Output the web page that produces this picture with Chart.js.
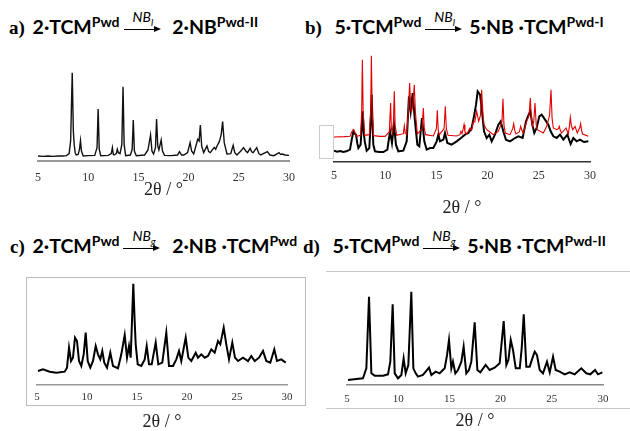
<!DOCTYPE html>
<html><head><meta charset="utf-8">
<script src="https://cdn.jsdelivr.net/npm/chart.js@4.4.1/dist/chart.umd.min.js"></script>
<style>
html,body{margin:0;padding:0;background:#fff;}
body{width:630px;height:431px;position:relative;overflow:hidden;}
canvas{position:absolute;}
.ttl{position:absolute;white-space:nowrap;font-family:Lato,"Open Sans",sans-serif;font-weight:bold;font-size:19.5px;line-height:22px;color:#000;}
.lab{font-family:"Liberation Serif",serif;font-weight:bold;font-size:19px;margin-right:3px;}
.sup{font-size:14px;position:relative;top:-7px;}
.arr{display:inline-block;position:relative;width:37px;height:22px;vertical-align:top;margin:0 7px 0 4px;}
.arr .ln{position:absolute;left:0;right:3px;top:13px;height:1px;background:#000;}
.arr .hd{position:absolute;right:0;top:10px;width:0;height:0;border-top:3.5px solid transparent;border-bottom:3.5px solid transparent;border-left:7px solid #000;}
.arr .nb{position:absolute;left:9px;top:-7px;font-weight:normal;font-style:italic;font-size:14px;line-height:15px;}
.arr .nb sub{font-size:10px;}
.deco{position:absolute;box-sizing:border-box;}
</style></head><body>

<div class="ttl" style="left:9px;top:16px;"><span class="lab">a)</span> 2·TCM<span class="sup">Pwd</span><span class="arr"><span class="nb">NB<sub>l</sub></span><span class="ln"></span><span class="hd"></span></span> 2·NB<span class="sup">Pwd-II</span></div>
<div class="ttl" style="left:305px;top:16px;"><span class="lab">b)</span>&nbsp; 5·TCM<span class="sup">Pwd</span><span class="arr"><span class="nb">NB<sub>l</sub></span><span class="ln"></span><span class="hd"></span></span>5·NB ·TCM<span class="sup">Pwd-I</span></div>
<div class="ttl" style="left:10px;top:235px;"><span class="lab">c)</span> 2·TCM<span class="sup">Pwd</span><span class="arr"><span class="nb">NB<sub>g</sub></span><span class="ln"></span><span class="hd"></span></span> 2·NB ·TCM<span class="sup">Pwd</span></div>
<div class="ttl" style="left:303px;top:235px;"><span class="lab">d)</span>&nbsp; 5·TCM<span class="sup">Pwd</span><span class="arr"><span class="nb">NB<sub>g</sub></span><span class="ln"></span><span class="hd"></span></span>5·NB ·TCM<span class="sup">Pwd-II</span></div>

<div class="deco" style="left:319px;top:125px;width:15px;height:34px;border:1px solid #ccc;"></div>
<div class="deco" style="left:26px;top:277px;width:280px;height:129px;border:1px solid #bbb;"></div>
<div class="deco" style="left:326px;top:271px;width:304px;height:1px;background:#c8c8c8;"></div>
<div class="deco" style="left:326px;top:408px;width:304px;height:1px;background:#c8c8c8;"></div>

<canvas id="ca" width="282" height="130" style="left:23px;top:71px;"></canvas>
<canvas id="cb" width="286" height="167" style="left:319px;top:52px;"></canvas>
<canvas id="cc" width="280" height="153" style="left:22px;top:280px;"></canvas>
<canvas id="cd" width="286" height="147" style="left:332px;top:285px;"></canvas>

<script>
// x axis (2θ, degrees) tick labels
const tickLabels2theta = [5, 10, 15, 20, 25, 30];

// Panel a: 2·NB Pwd-II
const a2theta = [5.0,5.5,6.0,6.5,7.0,7.5,7.84,8.1,8.25,8.41,8.52,8.6,8.7,8.8,9.0,9.13,9.23,9.33,9.5,10.0,10.65,10.88,10.99,11.1,11.25,12.0,12.3,12.41,12.5,12.57,12.8,12.9,13.0,13.17,13.35,13.47,13.58,13.73,14.2,14.38,14.49,14.6,14.79,15.62,15.95,16.21,16.35,16.51,16.7,16.81,16.93,17.04,17.27,17.4,17.6,18.26,18.9,19.09,19.3,19.52,19.9,20.15,20.3,20.51,20.91,21.05,21.17,21.3,21.5,21.83,22.0,22.16,22.4,22.56,22.7,22.83,23.06,23.25,23.39,23.55,23.82,24.2,24.44,24.6,24.81,25.2,25.47,25.7,25.87,26.13,26.3,26.43,26.79,27.0,27.19,27.85,28.1,28.51,29.01,29.15,29.34,29.6,30.0];
const aIntensity = [15,14,15,14,15,15,16,22,60,265,90,51,25,18,20,35,61,30,15,16,17,40,156,35,16,17,22,40,20,18,22,35,25,22,50,223,50,16,18,35,123,30,16,18,33,78,30,21,40,126,45,33,63,30,17,16,18,28,18,18,25,55,30,21,65,60,108,45,25,45,28,25,35,41,35,45,58,80,118,55,21,22,47,25,18,30,40,30,25,38,27,25,40,22,18,28,18,16,25,20,21,18,17];

// Panel b: red (reference pattern) and black (measured)
const bRed2theta = [5.0,6.0,6.56,6.73,6.95,7.21,7.6,7.7,7.77,7.85,8.0,8.45,8.58,8.65,8.73,8.87,9.5,9.98,10.4,10.53,10.6,10.69,10.8,10.89,10.97,11.12,11.77,11.87,11.95,12.1,12.25,12.39,12.49,12.58,12.7,12.84,12.95,13.14,13.6,13.72,13.82,13.95,14.7,15.0,15.09,15.18,15.29,15.75,15.87,15.97,16.14,16.98,17.3,17.4,17.5,17.62,17.7,17.79,17.96,18.28,18.44,18.61,18.75,18.93,19.13,19.3,19.42,19.55,19.65,19.91,20.23,20.56,21.05,21.4,21.5,21.6,21.73,22.19,22.45,22.55,22.65,22.77,23.1,23.23,23.35,23.49,23.82,24.05,24.17,24.28,24.37,24.5,24.63,24.75,24.86,25.44,25.77,26.05,26.19,26.3,26.42,26.75,26.92,27.0,27.1,27.23,27.66,27.88,28.0,28.08,28.18,28.31,28.54,28.76,29.02,29.09,29.18,29.28,29.84];
const bRedIntensity = [75,76,77,90,97,77,80,150,307,150,80,82,150,319,150,79,77,77,90,177,100,87,120,212,110,80,85,109,88,82,150,237,160,152,170,232,150,84,100,162,100,82,78,100,155,95,82,100,167,100,80,78,82,92,85,100,112,90,84,102,95,122,120,152,122,140,217,140,112,97,90,82,92,120,190,110,87,82,100,115,95,84,90,107,95,87,122,140,192,130,107,120,177,110,97,87,107,140,217,130,102,97,100,107,95,87,102,84,110,134,110,97,107,87,105,115,95,84,77];
const bBlack2theta = [5.0,5.3,5.6,5.91,6.2,6.56,6.75,6.89,7.0,7.15,7.28,7.38,7.6,7.7,7.8,7.9,8.0,8.19,8.45,8.58,8.68,8.78,8.84,9.0,9.4,9.82,10.21,10.47,10.66,10.86,11.05,11.28,11.77,12.1,12.32,12.49,12.68,12.91,13.14,13.33,13.59,13.82,14.05,14.38,14.7,15.03,15.19,15.35,15.68,15.84,16.07,16.49,16.98,17.4,17.79,18.12,18.44,18.67,18.87,19.03,19.26,19.42,19.65,19.91,20.17,20.4,20.72,21.05,21.28,21.53,21.79,22.19,22.68,23.0,23.42,23.75,24.01,24.17,24.37,24.56,24.79,25.05,25.28,25.61,25.93,26.16,26.42,26.75,27.07,27.4,27.79,28.11,28.37,28.7,29.02,29.41,29.84];
const bBlackIntensity = [34,31,33,30,32,37,70,92,85,82,55,42,52,100,152,90,62,34,42,120,202,100,52,32,30,30,37,92,57,112,52,32,34,62,197,152,207,122,52,47,132,62,37,42,42,62,82,62,67,87,57,52,62,72,82,87,102,137,172,212,202,162,92,72,82,62,82,112,122,92,67,62,72,77,72,122,142,152,112,87,102,137,142,127,112,92,77,72,82,67,82,54,72,62,67,60,62];

// Panel c: 2·NB·TCM Pwd
const c2theta = [5.1,5.6,6.27,6.93,7.77,8.0,8.2,8.4,8.6,8.8,9.0,9.2,9.43,9.67,9.87,10.07,10.33,10.6,10.87,11.1,11.33,11.53,11.73,12.0,12.33,12.6,13.1,13.43,13.77,14.0,14.2,14.37,14.63,14.77,14.87,15.07,15.43,15.77,15.97,16.2,16.47,16.87,17.13,17.53,17.93,18.2,18.6,18.93,19.2,19.43,19.87,20.13,20.43,20.87,21.1,21.43,21.77,22.1,22.43,22.77,23.1,23.33,23.67,23.93,24.2,24.53,24.8,25.1,25.6,26.1,26.43,26.77,27.2,27.6,27.93,28.33,28.73,29.0,29.43,29.87];
const cIntensity = [42,47,40,37,40,52,112,72,82,142,132,72,57,92,157,72,52,72,117,92,77,102,67,52,97,57,50,92,150,82,117,82,304,190,122,62,57,77,117,62,62,127,62,67,157,57,57,77,102,72,142,82,72,97,82,92,82,87,107,97,132,122,172,122,77,127,82,72,82,72,87,72,82,102,72,67,107,72,77,67];

// Panel d: 5·NB·TCM Pwd-II
const d2theta = [5.1,5.91,6.56,6.89,7.15,7.38,7.7,8.52,9.0,9.23,9.46,9.66,9.98,10.31,10.53,10.73,10.99,11.28,11.48,11.71,11.93,12.42,13.01,13.24,13.66,14.05,14.54,14.77,14.96,15.19,15.35,15.58,15.84,16.17,16.39,16.65,16.91,17.14,17.47,17.73,18.02,18.54,18.93,19.42,19.91,20.3,20.56,20.76,20.99,21.21,21.48,21.87,22.06,22.26,22.51,22.84,23.1,23.33,23.55,23.82,24.14,24.53,24.8,25.12,25.38,25.77,26.26,26.75,27.23,27.88,28.37,28.76,29.22,29.51,29.94];
const dIntensity = [15,18,20,50,265,35,28,28,32,70,242,35,20,30,80,35,60,280,50,35,25,30,52,30,40,35,50,90,135,50,70,35,45,70,115,35,45,70,188,45,38,60,45,52,65,192,60,75,135,105,50,50,110,212,55,55,80,100,90,45,35,70,38,85,45,40,32,38,32,50,35,32,45,32,38];

function pts(xs, ys){ return xs.map((x,i)=>({x:x, y:ys[i]})); }

function makeChart(id, datasets, cfg){
  return new Chart(document.getElementById(id), {
    type: 'line',
    data: { datasets: datasets },
    options: {
      responsive: false, animation: false, devicePixelRatio: 1,
      layout: { padding: { left: 15, right: 15, top: 0, bottom: 0 } },
      plugins: { legend: { display: false }, tooltip: { enabled: false } },
      elements: { point: { radius: 0 }, line: { tension: 0 } },
      scales: {
        x: {
          type: 'linear', min: 5, max: 30,
          afterBuildTicks: (s) => { s.ticks = tickLabels2theta.map(v => ({ value: v })); },
          ticks: { color: '#333', font: { family: 'Liberation Serif', size: cfg.tickSize }, padding: cfg.tickPad, maxRotation: 0, autoSkip: false },
          grid: { display: false, drawTicks: false },
          border: { display: true, color: cfg.axisColor, width: cfg.axisWidth },
          title: { display: true, text: '2θ / °', color: '#222', font: { family: 'Liberation Serif', size: 18 }, padding: { top: 0, bottom: 0 } },
          afterFit: (s) => { s.height = cfg.scaleH; }
        },
        y: { display: false, min: 0, max: cfg.ymax }
      }
    }
  });
}

makeChart('ca', [
  { data: pts(a2theta, aIntensity), borderColor: '#111', borderWidth: 1.4 }
], { ymax: 270, scaleH: 40, tickPad: 10, tickSize: 12, axisColor: '#999', axisWidth: 2 });

makeChart('cb', [
  { data: pts(bRed2theta, bRedIntensity), borderColor: '#e00000', borderWidth: 1.1, order: 1 },
  { data: pts(bBlack2theta, bBlackIntensity), borderColor: '#000', borderWidth: 2, order: 2 }
], { ymax: 330, scaleH: 57, tickPad: 7, tickSize: 12, axisColor: '#333', axisWidth: 1.5 });

makeChart('cc', [
  { data: pts(c2theta, cIntensity), borderColor: '#000', borderWidth: 2 }
], { ymax: 315, scaleH: 48, tickPad: 6, tickSize: 11, axisColor: '#999', axisWidth: 1.5 });

makeChart('cd', [
  { data: pts(d2theta, dIntensity), borderColor: '#000', borderWidth: 2 }
], { ymax: 300, scaleH: 47, tickPad: 8, tickSize: 11, axisColor: '#888', axisWidth: 1.5 });
</script>
</body></html>
